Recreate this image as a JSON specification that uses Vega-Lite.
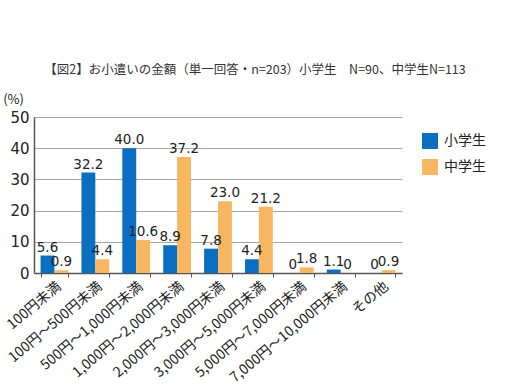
{
  "$schema": "https://vega.github.io/schema/vega-lite/v6.json",
  "autosize": {"type": "none"},
  "width": 368,
  "height": 156,
  "padding": {"left": 34, "top": 117, "right": 107, "bottom": 119},
  "background": "white",
  "title": {
    "text": "【図2】お小遣いの金額（単一回答・n=203）小学生　N=90、中学生N=113",
    "font": "Noto Sans CJK JP",
    "fontSize": 12.5,
    "fontWeight": "normal",
    "color": "#333333",
    "anchor": "middle",
    "frame": "group",
    "dx": 37,
    "offset": 17
  },
  "data": {
    "values": [
      {"cat": "100円未満", "grp": "小学生", "v": 5.6},
      {"cat": "100円未満", "grp": "中学生", "v": 0.9},
      {"cat": "100円～500円未満", "grp": "小学生", "v": 32.2},
      {"cat": "100円～500円未満", "grp": "中学生", "v": 4.4},
      {"cat": "500円～1,000円未満", "grp": "小学生", "v": 40.0},
      {"cat": "500円～1,000円未満", "grp": "中学生", "v": 10.6},
      {"cat": "1,000円～2,000円未満", "grp": "小学生", "v": 8.9},
      {"cat": "1,000円～2,000円未満", "grp": "中学生", "v": 37.2},
      {"cat": "2,000円～3,000円未満", "grp": "小学生", "v": 7.8},
      {"cat": "2,000円～3,000円未満", "grp": "中学生", "v": 23.0},
      {"cat": "3,000円～5,000円未満", "grp": "小学生", "v": 4.4},
      {"cat": "3,000円～5,000円未満", "grp": "中学生", "v": 21.2},
      {"cat": "5,000円～7,000円未満", "grp": "小学生", "v": 0},
      {"cat": "5,000円～7,000円未満", "grp": "中学生", "v": 1.8},
      {"cat": "7,000円～10,000円未満", "grp": "小学生", "v": 1.1},
      {"cat": "7,000円～10,000円未満", "grp": "中学生", "v": 0},
      {"cat": "その他", "grp": "小学生", "v": 0},
      {"cat": "その他", "grp": "中学生", "v": 0.9}
    ]
  },
  "transform": [
    {"calculate": "datum.v == 0 ? '0' : format(datum.v, '.1f')", "as": "label"}
  ],
  "encoding": {
    "x": {
      "field": "cat",
      "type": "nominal",
      "sort": null,
      "scale": {"paddingInner": 0.32, "paddingOuter": 0.16},
      "axis": {
        "title": null,
        "labelAngle": -40,
        "labelFont": "Noto Sans CJK JP",
        "labelFontSize": 14,
        "labelColor": "#222222",
        "labelPadding": 2,
        "domainColor": "#555555",
        "domainWidth": 1.5,
        "tickBand": "extent",
        "tickColor": "#555555",
        "tickSize": 4,
        "labelLimit": 0
      }
    },
    "xOffset": {
      "field": "grp",
      "type": "nominal",
      "scale": {"domain": ["小学生", "中学生"]}
    },
    "y": {
      "field": "v",
      "type": "quantitative",
      "scale": {"domain": [0, 50]},
      "axis": {
        "values": [0, 10, 20, 30, 40, 50],
        "title": "(%)",
        "titleAngle": 0,
        "titleFont": "Noto Sans CJK JP",
        "titleFontSize": 13,
        "titleFontWeight": "normal",
        "titleColor": "#222222",
        "titleX": -21,
        "titleY": -11,
        "titleAlign": "center",
        "labelFont": "DejaVu Sans",
        "labelFontSize": 15,
        "labelColor": "#222222",
        "labelPadding": 5,
        "ticks": false,
        "domainColor": "#555555",
        "domainWidth": 1.5,
        "grid": true,
        "gridColor": "#a6a6a6",
        "gridWidth": 1.2
      }
    }
  },
  "layer": [
    {
      "mark": {"type": "bar"},
      "encoding": {
        "color": {
          "field": "grp",
          "type": "nominal",
          "scale": {"domain": ["小学生", "中学生"], "range": ["#0b6fc1", "#f8b660"]},
          "legend": {
            "title": null,
            "orient": "none",
            "legendX": 388,
            "legendY": 16,
            "symbolType": "square",
            "symbolSize": 256,
            "symbolStrokeWidth": 0,
            "labelFont": "Noto Sans CJK JP",
            "labelFontSize": 14,
            "labelColor": "#222222",
            "rowPadding": 10,
            "labelOffset": 6
          }
        }
      }
    },
    {
      "mark": {"type": "text", "baseline": "bottom", "dy": -1, "font": "DejaVu Sans", "fontSize": 13.5, "color": "#222222"},
      "encoding": {"text": {"field": "label"}}
    }
  ],
  "config": {"view": {"stroke": null}}
}
